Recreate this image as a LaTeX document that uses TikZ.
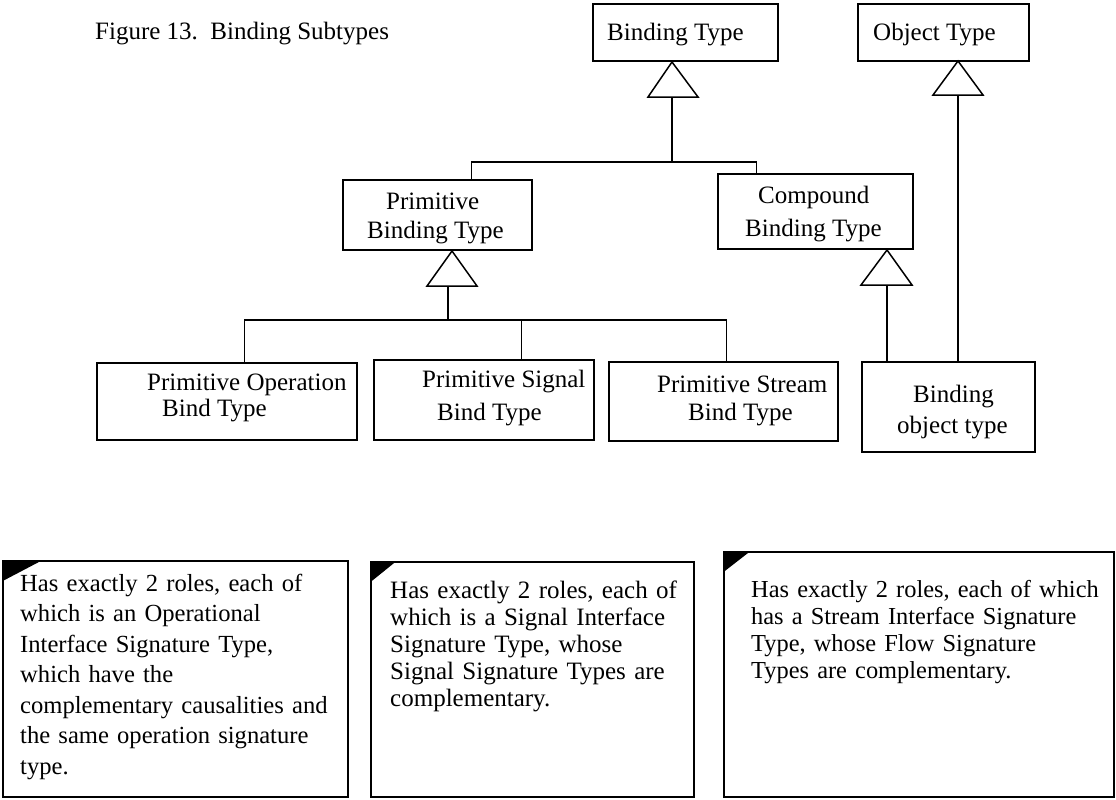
\documentclass[tikz,border=0pt]{standalone}
\usepackage{fontspec}
\setmainfont{Liberation Serif}
\usetikzlibrary{fit,calc}
\begin{document}
\begin{tikzpicture}[x=1pt,y=-1pt,
  box/.style={draw, line width=1.5pt, inner sep=0pt, fit={#1}},
  lbl/.style={anchor=base west, inner sep=0pt, font=\fontsize{25}{30}\selectfont},
  notetxt/.style={anchor=base west, inner sep=0pt, align=left, text width=#1},
  conn/.style={line width=1.5pt},
  gen/.style={draw, line width=1.5pt, fill=white, line join=miter},
  fold/.style={fill=black}]
\useasboundingbox (0,0) rectangle (1116,800);

% caption
\node[lbl] (cap) at (95,40) {Figure 13.\ \ Binding Subtypes};

% boxes
\node[box={(593,4) (778,61)}] (bt) {};
\node[lbl] (btT) at (607,41) {Binding Type};
\node[box={(858,4) (1029,61)}] (ot) {};
\node[lbl] (otT) at (873,41) {Object Type};

\node[box={(343,180) (532,250)}] (pbt) {};
\node[lbl] (pbt1) at (386,209) {Primitive};
\node[lbl] (pbt2) at (367,238) {Binding Type};

\node[box={(718,174) (913,249)}] (cbt) {};
\node[lbl] (cbt1) at (758,203) {Compound};
\node[lbl] (cbt2) at (745,236) {Binding Type};

\node[box={(97,363) (357,440)}] (pob) {};
\node[lbl] (pob1) at (147,390) {Primitive Operation};
\node[lbl] (pob2) at (162,416) {Bind Type};

\node[box={(374,360) (594,440)}] (psb) {};
\node[lbl] (psb1) at (422,387) {Primitive Signal};
\node[lbl] (psb2) at (437,420) {Bind Type};

\node[box={(609,362) (838,441)}] (pst) {};
\node[lbl] (pst1) at (657,392) {Primitive Stream};
\node[lbl] (pst2) at (688,420) {Bind Type};

\node[box={(862,362) (1035,452)}] (bot) {};
\node[lbl] (bot1) at (913,402) {Binding};
\node[lbl] (bot2) at (897,433) {object type};

% notes
\node[box={(3,561) (348,797)}] (n1) {};
\fill[fold] (n1.north west) -- ++(40,0) -- ++(-40,21) -- cycle;
\node[notetxt=330pt, font=\fontsize{24.6}{30.5}\selectfont] (n1T) at (20,591)
  {Has exactly 2 roles, each of\\which is an Operational\\Interface Signature Type,\\which have the\\complementary causalities and\\the same operation signature\\type.};

\node[box={(371,562) (694,797)}] (n2) {};
\fill[fold] (n2.north west) -- ++(26,0) -- ++(-26,21) -- cycle;
\node[notetxt=300pt, font=\fontsize{25}{27.2}\selectfont] (n2T) at (390,598)
  {Has exactly 2 roles, each of\\which is a Signal Interface\\Signature Type, whose\\Signal Signature Types are\\complementary.};

\node[box={(724,552) (1114,797)}] (n3) {};
\fill[fold] (n3.north west) -- ++(27,0) -- ++(-27,21) -- cycle;
\node[notetxt=360pt, font=\fontsize{24.4}{27}\selectfont] (n3T) at (751,597)
  {Has exactly 2 roles, each of which\\has a Stream Interface Signature\\Type, whose Flow Signature\\Types are complementary.};

% junction coordinates
\coordinate (tA1) at (672,62);   \coordinate (tB1) at (672,97);
\coordinate (tA2) at (958,61);   \coordinate (tB2) at (958,95);
\coordinate (tA3) at (452,251);  \coordinate (tB3) at (448,286);
\coordinate (tA4) at (887,250);  \coordinate (tB4) at (887,285);
\coordinate (j1) at (672,162);
\coordinate (j2) at (448,320);

% connectors
\draw[conn] (tB1) -- (j1);
\draw[conn] (j1) -| ($(cbt.north west)+(39,0)$);
\draw[conn] (j1) -| ($(pbt.north west)+(129,0)$);
\draw[conn] (tB3) -- (j2);
\draw[conn] (j2) -| ($(pob.north west)+(148,0)$);
\draw[conn] (j2) -| ($(psb.north west)+(148,0)$);
\draw[conn] (j2) -| ($(pst.north west)+(118,0)$);
\draw[conn] (tB4) -- (tB4 |- bot.north);
\draw[conn] (tB2) -- (tB2 |- bot.north);
\draw[conn] ($(pob.south west)+(130,0)$) -- ($(pob.south west)+(130,0)$ |- n1.north);
\draw[conn] ($(psb.south west)+(94,0)$) -- ($(psb.south west)+(94,0)$ |- n2.north);
\draw[conn] ($(pst.south west)+(177,0)$) -- ($(pst.south west)+(177,0)$ |- n3.north);

% generalisation triangles
\draw[gen] (tA1) -- (648,97) -- (698,97) -- cycle;
\draw[gen] (tA2) -- (933,95) -- (983,95) -- cycle;
\draw[gen] (tA3) -- (427,286) -- (477,286) -- cycle;
\draw[gen] (tA4) -- (861,285) -- (912,285) -- cycle;
\end{tikzpicture}
\end{document}
